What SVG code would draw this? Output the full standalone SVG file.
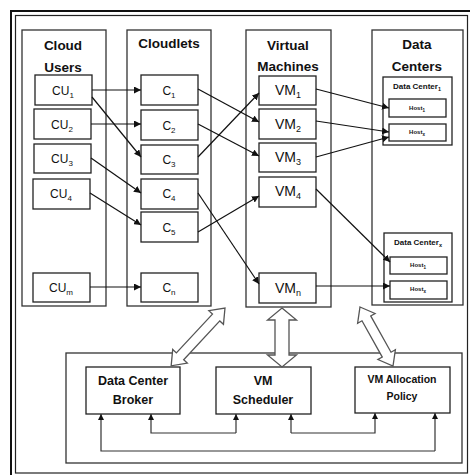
<svg xmlns="http://www.w3.org/2000/svg" width="470" height="475" viewBox="0 0 470 475">
<defs>
<marker id="ah" viewBox="0 0 10 10" refX="10" refY="5" markerWidth="7" markerHeight="7" markerUnits="userSpaceOnUse" orient="auto">
<path d="M0,0 L10,5 L0,10 z" fill="#111"/>
</marker>
<marker id="ahs" viewBox="0 0 10 10" refX="10" refY="5" markerWidth="6" markerHeight="6" markerUnits="userSpaceOnUse" orient="auto">
<path d="M0,0 L10,5 L0,10 z" fill="#111"/>
</marker>
</defs>
<style>
.box{fill:#fff;stroke:#222;stroke-width:1.3}
.col{fill:#fff;stroke:#333;stroke-width:1.3}
.t{font-family:"Liberation Sans",Arial,sans-serif;fill:#111;text-anchor:middle}
.title{font-size:13.5px;font-weight:bold}
.lbl{font-size:12px}
.vm{font-size:14px}
.bot{font-size:12.5px;font-weight:bold}
.bots{font-size:10.5px;font-weight:bold}
.dc{font-size:8px;font-weight:bold}
.host{font-size:6px;font-weight:bold}
.con{fill:none;stroke:#111;stroke-width:1.2;marker-end:url(#ah)}
.fba{fill:none;stroke:#333;stroke-width:1.2;marker-end:url(#ahs)}
.blk{fill:#fff;stroke:#555;stroke-width:1.3;stroke-linejoin:miter}
</style>
<rect x="0" y="0" width="470" height="475" fill="#fff"/>
<g id="frame">
<rect x="11" y="11" width="470" height="470" fill="none" stroke="#111" stroke-width="2"/>
<rect x="15.5" y="15.5" width="452" height="457.5" fill="none" stroke="#222" stroke-width="1.2"/>
</g>
<g id="col-users">
<rect class="col" x="22" y="30" width="84" height="276"/>
<text class="t title" x="63" y="50">Cloud</text>
<text class="t title" x="63" y="72">Users</text>
</g>
<g id="col-cloudlets">
<rect class="col" x="127" y="30" width="84" height="276"/>
<text class="t title" x="169" y="48">Cloudlets</text>
</g>
<g id="col-vms">
<rect class="col" x="246" y="30" width="85" height="277"/>
<text class="t title" x="288" y="50">Virtual</text>
<text class="t title" x="288" y="71">Machines</text>
</g>
<g id="col-dcs">
<rect class="col" x="372" y="30" width="91" height="275"/>
<text class="t title" x="417" y="49">Data</text>
<text class="t title" x="417" y="71">Centers</text>
</g>
<g id="CU1"><rect class="box" x="35" y="75" width="57" height="30"/><text class="t lbl" x="63" y="95">CU<tspan font-size="8" dy="3">1</tspan></text></g>
<g id="CU2"><rect class="box" x="34" y="109" width="57" height="30"/><text class="t lbl" x="62" y="129">CU<tspan font-size="8" dy="3">2</tspan></text></g>
<g id="CU3"><rect class="box" x="34" y="144" width="57" height="29"/><text class="t lbl" x="62" y="163">CU<tspan font-size="8" dy="3">3</tspan></text></g>
<g id="CU4"><rect class="box" x="33" y="179" width="57" height="30"/><text class="t lbl" x="61" y="198">CU<tspan font-size="8" dy="3">4</tspan></text></g>
<g id="CUm"><rect class="box" x="33" y="273" width="57" height="29"/><text class="t lbl" x="61" y="292">CU<tspan font-size="8" dy="3">m</tspan></text></g>
<g id="C1"><rect class="box" x="141" y="75" width="57" height="30"/><text class="t lbl" x="169" y="95">C<tspan font-size="8" dy="3">1</tspan></text></g>
<g id="C2"><rect class="box" x="141" y="110" width="57" height="30"/><text class="t lbl" x="169" y="130">C<tspan font-size="8" dy="3">2</tspan></text></g>
<g id="C3"><rect class="box" x="141" y="145" width="57" height="29"/><text class="t lbl" x="169" y="164">C<tspan font-size="8" dy="3">3</tspan></text></g>
<g id="C4"><rect class="box" x="141" y="179" width="57" height="30"/><text class="t lbl" x="169" y="198">C<tspan font-size="8" dy="3">4</tspan></text></g>
<g id="C5"><rect class="box" x="141" y="212" width="57" height="30"/><text class="t lbl" x="169" y="232">C<tspan font-size="8" dy="3">5</tspan></text></g>
<g id="Cn"><rect class="box" x="141" y="273" width="57" height="29"/><text class="t lbl" x="169" y="292">C<tspan font-size="8" dy="3">n</tspan></text></g>
<g id="VM1"><rect class="box" x="259" y="76" width="57" height="29"/><text class="t vm" x="288" y="95">VM<tspan font-size="9" dy="3">1</tspan></text></g>
<g id="VM2"><rect class="box" x="259" y="109" width="57" height="30"/><text class="t vm" x="288" y="129">VM<tspan font-size="9" dy="3">2</tspan></text></g>
<g id="VM3"><rect class="box" x="259" y="143" width="57" height="29"/><text class="t vm" x="288" y="162">VM<tspan font-size="9" dy="3">3</tspan></text></g>
<g id="VM4"><rect class="box" x="259" y="177" width="57" height="30"/><text class="t vm" x="288" y="196">VM<tspan font-size="9" dy="3">4</tspan></text></g>
<g id="VMn"><rect class="box" x="259" y="273" width="57" height="30"/><text class="t vm" x="288" y="293">VM<tspan font-size="9" dy="3">n</tspan></text></g>
<g id="DC1">
<rect class="box" x="383" y="77" width="69" height="68"/>
<text class="t dc" x="417" y="89">Data Center<tspan font-size="5.5" dy="2">1</tspan></text>
<rect class="box" x="389" y="99" width="57" height="18"/>
<text class="t host" x="417" y="110">Host<tspan font-size="4.5" dy="1.5">1</tspan></text>
<rect class="box" x="389" y="124" width="57" height="17"/>
<text class="t host" x="417" y="134">Host<tspan font-size="4.5" dy="1.5">x</tspan></text>
</g>
<g id="DCn">
<rect class="box" x="384" y="233" width="68" height="69"/>
<text class="t dc" x="418" y="245">Data Center<tspan font-size="5.5" dy="2">x</tspan></text>
<rect class="box" x="390" y="257" width="57" height="17"/>
<text class="t host" x="418" y="267">Host<tspan font-size="4.5" dy="1.5">1</tspan></text>
<rect class="box" x="390" y="281" width="57" height="18"/>
<text class="t host" x="418" y="291">Host<tspan font-size="4.5" dy="1.5">x</tspan></text>
</g>
<g id="bottom-panel">
<rect class="col" x="66" y="353" width="396" height="110"/>
</g>
<g id="broker"><rect class="box" x="86" y="367" width="94" height="47"/><text class="t bot" x="133" y="385">Data Center</text><text class="t bot" x="133" y="404">Broker</text></g>
<g id="scheduler"><rect class="box" x="216" y="367" width="95" height="47"/><text class="t bot" x="263" y="385">VM</text><text class="t bot" x="263" y="404">Scheduler</text></g>
<g id="allocation"><rect class="box" x="355" y="367" width="95" height="46"/><text class="t bots" x="402" y="383">VM Allocation</text><text class="t bots" x="402" y="400">Policy</text></g>
<g id="connectors">
<line class="con" x1="92" y1="90" x2="141" y2="90"/>
<line class="con" x1="92" y1="97" x2="141" y2="157"/>
<line class="con" x1="91" y1="124" x2="141" y2="124"/>
<line class="con" x1="91" y1="158" x2="141" y2="193"/>
<line class="con" x1="90" y1="193" x2="141" y2="225"/>
<line class="con" x1="90" y1="287" x2="141" y2="287"/>
<line class="con" x1="198" y1="89" x2="259" y2="122"/>
<line class="con" x1="198" y1="124" x2="259" y2="156"/>
<line class="con" x1="198" y1="157" x2="259" y2="93"/>
<line class="con" x1="198" y1="193" x2="259" y2="284"/>
<line class="con" x1="198" y1="232" x2="259" y2="196"/>
<line class="con" x1="316" y1="89" x2="389" y2="108"/>
<line class="con" x1="316" y1="121" x2="389" y2="132"/>
<line class="con" x1="316" y1="157" x2="389" y2="137"/>
<line class="con" x1="316" y1="189" x2="390" y2="262"/>
<line class="con" x1="316" y1="286" x2="390" y2="286"/>
<polyline class="fba" points="236,433 151,433 151,414"/>
<line class="fba" x1="236" y1="433" x2="236" y2="414"/>
<polyline class="fba" points="291,433 375,433 375,413"/>
<line class="fba" x1="291" y1="433" x2="291" y2="414"/>
<polyline class="fba" points="435,451 101,451 101,414"/>
<line class="fba" x1="435" y1="451" x2="435" y2="413"/>
<polygon class="blk" transform="translate(282,308) rotate(90)" points="0,0 12,-14.5 12,-7 47,-7 47,-14.5 59,0 47,14.5 47,7 12,7 12,14.5"/>
<polygon class="blk" transform="translate(225,308) rotate(132.96)" points="0,0 13,-10 13,-5 66,-5 66,-10 79,0 66,10 66,5 13,5 13,10"/>
<polygon class="blk" transform="translate(360,307) rotate(60.78)" points="0,0 13,-10 13,-5 54.6,-5 54.6,-10 67.6,0 54.6,10 54.6,5 13,5 13,10"/>
</g>
</svg>
